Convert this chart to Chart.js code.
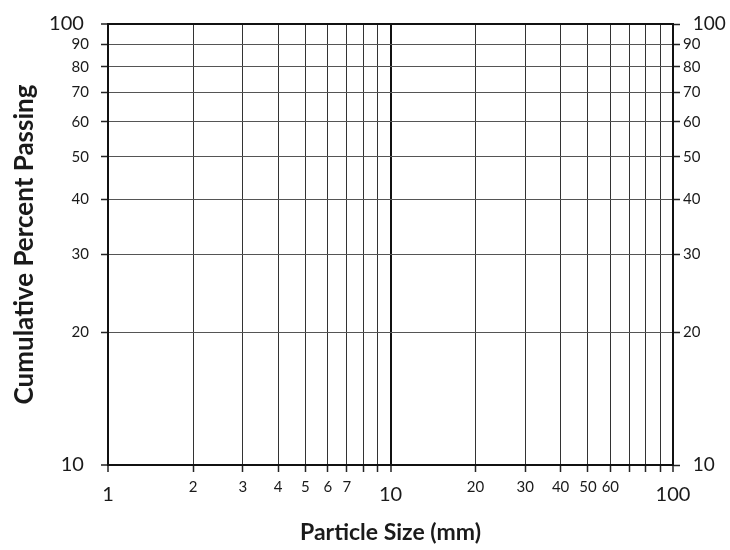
<!DOCTYPE html>
<html><head><meta charset="utf-8">
<script src="https://cdn.jsdelivr.net/npm/chart.js@4/dist/chart.umd.min.js"></script>
<style>html,body{margin:0;padding:0;background:#fff}#wrap{width:730px;height:550px}</style>
</head><body><div id="wrap"><canvas id="c" width="730" height="550"></canvas></div>
<script>
// Blank log-log grading chart (graph paper) - no plotted series
const particleSizeTicks = [1,2,3,4,5,6,7,8,9,10,20,30,40,50,60,70,80,90,100];
const particleSizeLabels = ['1','2','3','4','5','6','7','','','10','20','30','40','50','60','','','','100'];
const percentTicks = [10,20,30,40,50,60,70,80,90,100];
const percentLabels = ['10','20','30','40','50','60','70','80','90','100'];
const majorSizeTicks = [1,10,100];
const majorPercentTicks = [10,100];
const seriesData = [];

const FONT = 'Lato, "Open Sans", sans-serif';
const tv = ctx => (ctx && ctx.tick) ? ctx.tick.value : null;
const isMajX = v => majorSizeTicks.includes(v);
const isMajY = v => majorPercentTicks.includes(v);
const lbl = (vals, labs, v) => { const i = vals.indexOf(v); return i < 0 ? '' : labs[i]; };

new Chart(document.getElementById('c'), {
  type: 'scatter',
  data: { datasets: [{ data: seriesData, xAxisID: 'x', yAxisID: 'y' }] },
  options: {
    responsive: false,
    animation: false,
    layout: { padding: { top: 18, left: 0, right: 0, bottom: 0 } },
    plugins: { legend: { display: false }, tooltip: { enabled: false } },
    scales: {
      x: {
        type: 'logarithmic', position: 'bottom', min: 1, max: 100,
        afterBuildTicks: s => { s.ticks = particleSizeTicks.map(v => ({ value: v })); },
        afterFit: s => { s.height = 85; },
        ticks: {
          autoSkip: false, maxRotation: 0, minRotation: 0, padding: 6, color: '#1a1a1a',
          callback: v => lbl(particleSizeTicks, particleSizeLabels, v),
          font: ctx => isMajX(tv(ctx)) ? { family: FONT, size: 20, lineHeight: 1.7 } : { family: FONT, size: 15, lineHeight: 1.2 }
        },
        grid: {
          color: ctx => isMajX(tv(ctx)) ? '#111' : '#333',
          lineWidth: ctx => isMajX(tv(ctx)) ? 2 : 1,
          tickLength: 7,
          tickColor: '#222',
          tickWidth: 1.5
        },
        border: { display: true, color: '#111', width: 2 },
        title: { display: true, text: 'Particle Size (mm)', color: '#1a1a1a',
          font: { family: FONT, size: 23, weight: 'bold' }, padding: { top: 0, bottom: 4 } }
      },
      y: {
        type: 'logarithmic', position: 'left', min: 10, max: 100,
        afterBuildTicks: s => { s.ticks = percentTicks.map(v => ({ value: v })); },
        afterFit: s => { s.width = 108; },
        ticks: {
          autoSkip: false, padding: 12, color: '#1a1a1a',
          callback: v => { const t = lbl(percentTicks, percentLabels, v); return isMajY(v) ? t + ' ' : t; },
          font: ctx => isMajY(tv(ctx)) ? { family: FONT, size: 20 } : { family: FONT, size: 15 }
        },
        grid: {
          color: ctx => isMajY(tv(ctx)) ? '#111' : '#555',
          lineWidth: ctx => isMajY(tv(ctx)) ? 2 : 1,
          tickLength: 7,
          tickColor: '#222',
          tickWidth: 1.5
        },
        border: { display: true, color: '#111', width: 2 },
        title: { display: true, text: 'Cumulative Percent Passing', color: '#1a1a1a',
          font: { family: FONT, size: 26, weight: 'bold' }, padding: { top: 9, bottom: 0 } }
      },
      y2: {
        type: 'logarithmic', position: 'right', min: 10, max: 100,
        afterBuildTicks: s => { s.ticks = percentTicks.map(v => ({ value: v })); },
        afterFit: s => { s.width = 57; },
        ticks: {
          autoSkip: false, padding: 3, color: '#1a1a1a',
          callback: v => { const t = lbl(percentTicks, percentLabels, v); return isMajY(v) ? '  ' + t : t; },
          font: ctx => isMajY(tv(ctx)) ? { family: FONT, size: 19 } : { family: FONT, size: 15 }
        },
        grid: { drawOnChartArea: false, tickLength: 7, tickColor: '#222', tickWidth: 1.5 },
        border: { display: true, color: '#111', width: 2 }
      }
    }
  }
});
</script>
</body></html>
